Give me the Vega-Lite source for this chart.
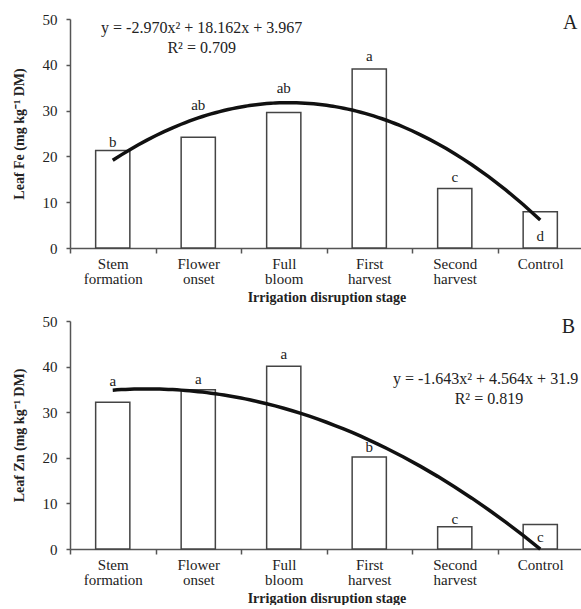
{
  "$schema": "https://vega.github.io/schema/vega-lite/v6.json",
  "padding": {"left": 12, "top": 12, "right": 0, "bottom": 0},
  "spacing": 10,
  "config": {
    "font": "Liberation Serif",
    "view": {"stroke": null},
    "axis": {
      "labelFont": "Liberation Serif",
      "titleFont": "Liberation Serif",
      "labelColor": "#222",
      "titleColor": "#222",
      "domainColor": "#555",
      "tickColor": "#555",
      "domainWidth": 1.5,
      "tickWidth": 1.5,
      "grid": false,
      "labelFontSize": 15,
      "titleFontSize": 14,
      "titleFontWeight": "bold"
    },
    "text": {"font": "Liberation Serif", "color": "#222"}
  },
  "datasets": {
    "fe": [
      {"stage": "Stem formation", "idx": 1, "value": 21.3, "letter": "b", "letter_y": 23.1},
      {"stage": "Flower onset", "idx": 2, "value": 24.2, "letter": "ab", "letter_y": 31.2},
      {"stage": "Full bloom", "idx": 3, "value": 29.6, "letter": "ab", "letter_y": 34.9},
      {"stage": "First harvest", "idx": 4, "value": 39.1, "letter": "a", "letter_y": 41.9},
      {"stage": "Second harvest", "idx": 5, "value": 13.0, "letter": "c", "letter_y": 15.5},
      {"stage": "Control", "idx": 6, "value": 7.9, "letter": "d", "letter_y": 2.6}
    ],
    "zn": [
      {"stage": "Stem formation", "idx": 1, "value": 32.2, "letter": "a", "letter_y": 36.8},
      {"stage": "Flower onset", "idx": 2, "value": 34.9, "letter": "a", "letter_y": 37.3},
      {"stage": "Full bloom", "idx": 3, "value": 40.1, "letter": "a", "letter_y": 42.7},
      {"stage": "First harvest", "idx": 4, "value": 20.2, "letter": "b", "letter_y": 22.3},
      {"stage": "Second harvest", "idx": 5, "value": 4.9, "letter": "c", "letter_y": 6.6},
      {"stage": "Control", "idx": 6, "value": 5.4, "letter": "c", "letter_y": 2.6}
    ],
    "fe_notes": [
      {"qx": 2.04, "qy": 48.0, "txt": "y = -2.970x² + 18.162x + 3.967", "size": "eq"},
      {"qx": 2.04, "qy": 43.7, "txt": "R² = 0.709", "size": "eq"},
      {"qx": 6.35, "qy": 49.1, "txt": "A", "size": "panel"}
    ],
    "zn_notes": [
      {"qx": 5.36, "qy": 37.2, "txt": "y = -1.643x² + 4.564x + 31.9", "size": "eq"},
      {"qx": 5.40, "qy": 33.0, "txt": "R² = 0.819", "size": "eq"},
      {"qx": 6.33, "qy": 48.6, "txt": "B", "size": "panel"}
    ]
  },
  "vconcat": [
    {
      "width": 513,
      "height": 229,
      "resolve": {"scale": {"x": "independent"}},
      "layer": [
        {
          "data": {"name": "fe"},
          "mark": {"type": "bar", "fill": "white", "stroke": "#444", "strokeWidth": 1.5, "width": {"band": 0.4}},
          "encoding": {
            "x": {"field": "stage", "type": "nominal", "sort": null,
              "scale": {"paddingInner": 0, "paddingOuter": 0},
              "axis": {"title": "Irrigation disruption stage", "labelAngle": 0, "tickBand": "extent",
                "labelExpr": "!isString(datum.value) ? '' : (datum.value == 'Control' ? 'Control' : split(datum.value, ' '))",
                "labelLineHeight": 15, "labelFontSize": 15, "tickSize": 5, "labelPadding": 3, "titlePadding": 4}},
            "y": {"field": "value", "type": "quantitative", "title": "Leaf Fe (mg kg⁻¹ DM)",
              "scale": {"domain": [0, 50], "nice": false},
              "axis": {"values": [0, 10, 20, 30, 40, 50], "tickSize": 4, "labelPadding": 9, "titlePadding": 16}}
          }
        },
        {
          "data": {"name": "fe"},
          "mark": {"type": "text", "fontSize": 15, "baseline": "middle"},
          "encoding": {
            "x": {"field": "stage", "type": "nominal", "sort": null, "scale": {"paddingInner": 0, "paddingOuter": 0}, "axis": null},
            "y": {"field": "letter_y", "type": "quantitative", "title": "Leaf Fe (mg kg⁻¹ DM)"},
            "text": {"field": "letter"}
          }
        },
        {
          "data": {"name": "fe"},
          "transform": [{"regression": "value", "on": "idx", "method": "poly", "order": 2, "extent": [1, 6]}],
          "mark": {"type": "line", "color": "#111", "strokeWidth": 3.5},
          "encoding": {
            "x": {"field": "idx", "type": "quantitative", "scale": {"domain": [0.5, 6.5], "nice": false, "zero": false}, "axis": null},
            "y": {"field": "value", "type": "quantitative", "title": "Leaf Fe (mg kg⁻¹ DM)"}
          }
        },
        {
          "data": {"name": "fe_notes"},
          "mark": {"type": "text", "baseline": "middle", "align": "center"},
          "encoding": {
            "x": {"field": "qx", "type": "quantitative", "scale": {"domain": [0.5, 6.5], "nice": false, "zero": false}, "axis": null},
            "y": {"field": "qy", "type": "quantitative", "title": "Leaf Fe (mg kg⁻¹ DM)"},
            "text": {"field": "txt"},
            "size": {"field": "size", "type": "nominal", "scale": {"domain": ["eq", "panel"], "range": [16, 20]}, "legend": null}
          }
        }
      ]
    },
    {
      "width": 513,
      "height": 228,
      "resolve": {"scale": {"x": "independent"}},
      "layer": [
        {
          "data": {"name": "zn"},
          "mark": {"type": "bar", "fill": "white", "stroke": "#444", "strokeWidth": 1.5, "width": {"band": 0.4}},
          "encoding": {
            "x": {"field": "stage", "type": "nominal", "sort": null,
              "scale": {"paddingInner": 0, "paddingOuter": 0},
              "axis": {"title": "Irrigation disruption stage", "labelAngle": 0, "tickBand": "extent",
                "labelExpr": "!isString(datum.value) ? '' : (datum.value == 'Control' ? 'Control' : split(datum.value, ' '))",
                "labelLineHeight": 15, "labelFontSize": 15, "tickSize": 5, "labelPadding": 3, "titlePadding": 4}},
            "y": {"field": "value", "type": "quantitative", "title": "Leaf Zn (mg kg⁻¹ DM)",
              "scale": {"domain": [0, 50], "nice": false},
              "axis": {"values": [0, 10, 20, 30, 40, 50], "tickSize": 4, "labelPadding": 9, "titlePadding": 16}}
          }
        },
        {
          "data": {"name": "zn"},
          "mark": {"type": "text", "fontSize": 15, "baseline": "middle"},
          "encoding": {
            "x": {"field": "stage", "type": "nominal", "sort": null, "scale": {"paddingInner": 0, "paddingOuter": 0}, "axis": null},
            "y": {"field": "letter_y", "type": "quantitative", "title": "Leaf Zn (mg kg⁻¹ DM)"},
            "text": {"field": "letter"}
          }
        },
        {
          "data": {"name": "zn"},
          "transform": [{"regression": "value", "on": "idx", "method": "poly", "order": 2, "extent": [1, 6]}],
          "mark": {"type": "line", "color": "#111", "strokeWidth": 3.5},
          "encoding": {
            "x": {"field": "idx", "type": "quantitative", "scale": {"domain": [0.5, 6.5], "nice": false, "zero": false}, "axis": null},
            "y": {"field": "value", "type": "quantitative", "title": "Leaf Zn (mg kg⁻¹ DM)"}
          }
        },
        {
          "data": {"name": "zn_notes"},
          "mark": {"type": "text", "baseline": "middle", "align": "center"},
          "encoding": {
            "x": {"field": "qx", "type": "quantitative", "scale": {"domain": [0.5, 6.5], "nice": false, "zero": false}, "axis": null},
            "y": {"field": "qy", "type": "quantitative", "title": "Leaf Zn (mg kg⁻¹ DM)"},
            "text": {"field": "txt"},
            "size": {"field": "size", "type": "nominal", "scale": {"domain": ["eq", "panel"], "range": [16, 20]}, "legend": null}
          }
        }
      ]
    }
  ]
}
